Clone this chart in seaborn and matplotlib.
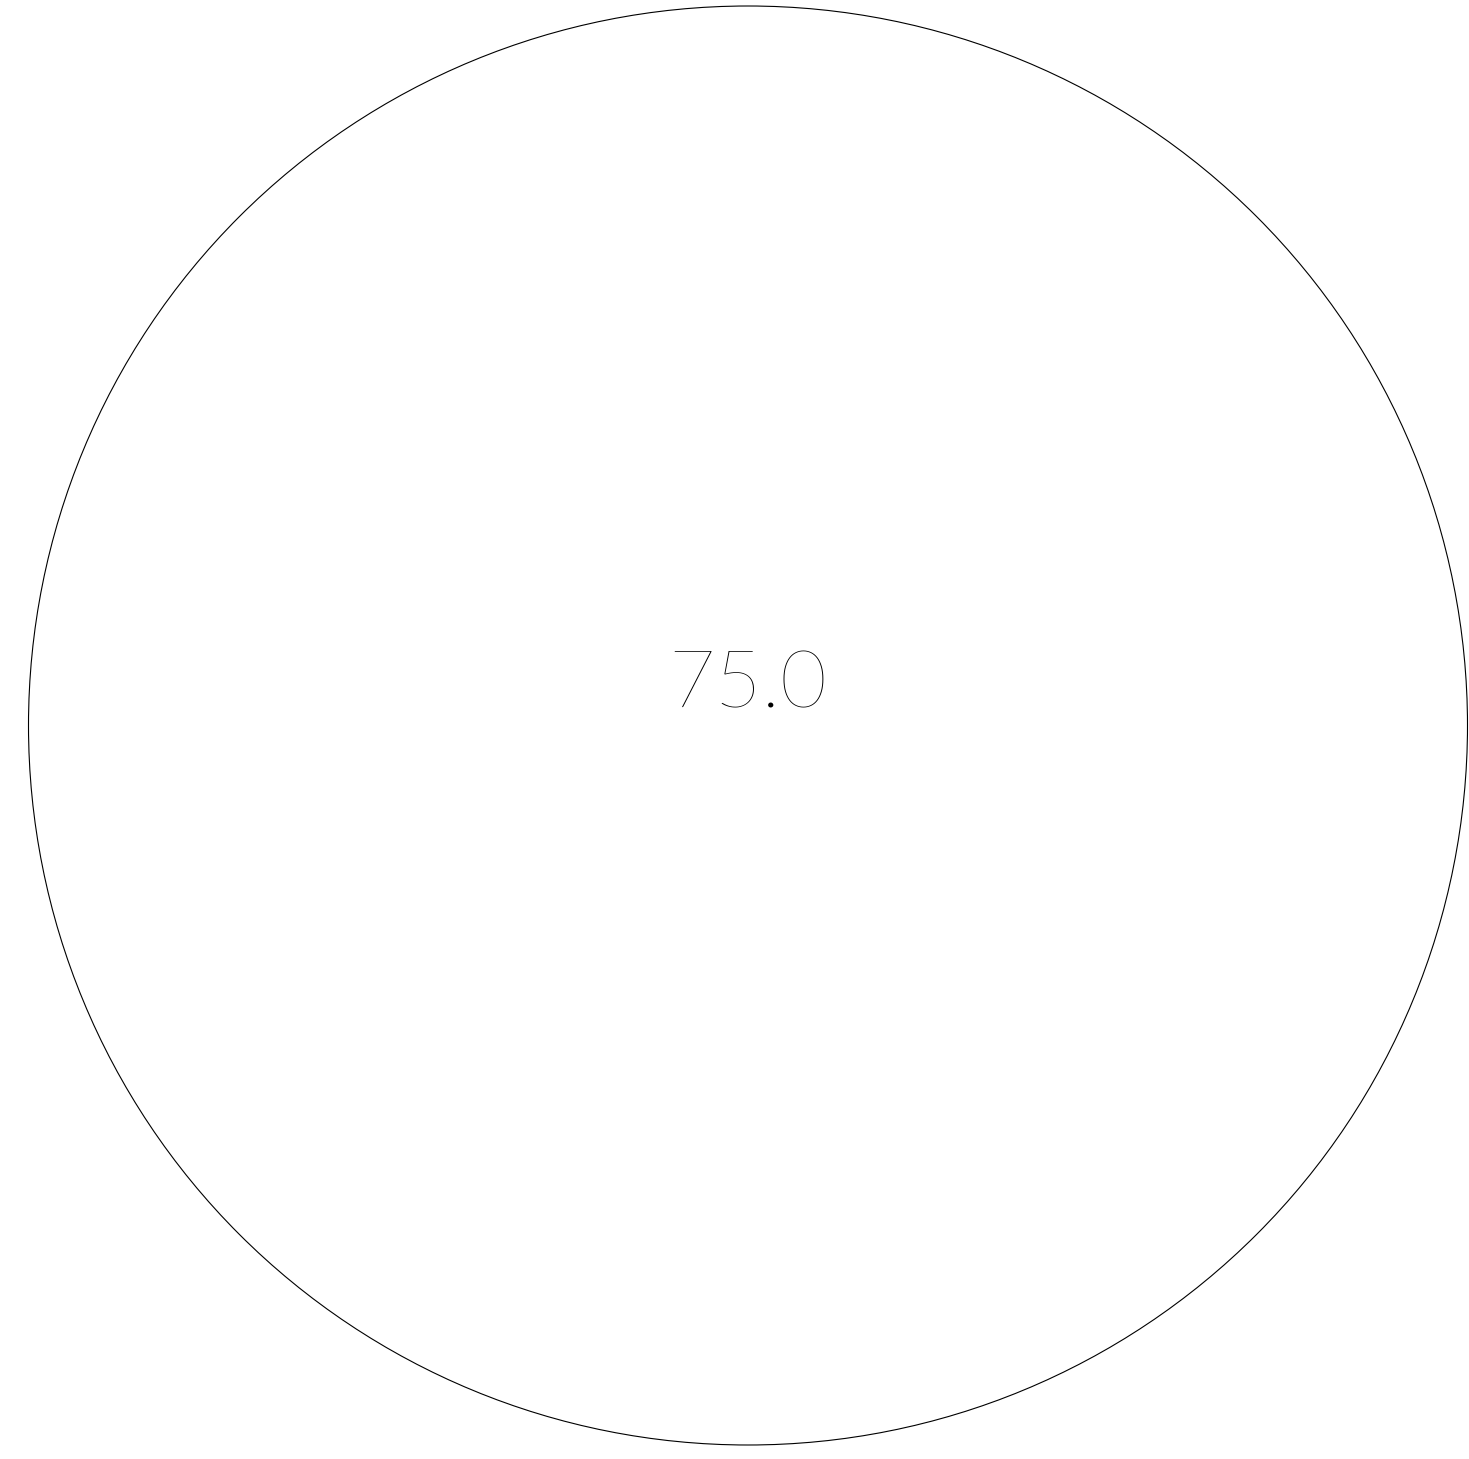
import matplotlib
matplotlib.use("Agg")
import matplotlib.pyplot as plt
import seaborn as sns
from matplotlib.patches import Circle

# data
value = [75.0]
labels = ["75.0"]
radius = [1.0]

sns.set_theme(style="white")
plt.rcParams['font.family'] = ['Lato', 'DejaVu Sans']

W, H, DPI = 1469, 1459, 100
fig = plt.figure(figsize=(W / DPI, H / DPI), dpi=DPI)
ax = fig.add_axes([0, 0, 1, 1])
cx_px, cy_px, r_px = 748.0, 725.5, 719.5
ax.set_xlim(-cx_px / r_px, (W - cx_px) / r_px)
ax.set_ylim(-(H - cy_px) / r_px, cy_px / r_px)
ax.set_axis_off()

circ = Circle((0, 0), radius[0], facecolor="none", edgecolor="black", lw=0.8)
ax.add_patch(circ)

ax.text(0, (cy_px - 707) / r_px, labels[0], ha="center", va="baseline",
        fontsize=58, fontweight=100, color="black")

fig.savefig("out.png", dpi=DPI, facecolor="white")
